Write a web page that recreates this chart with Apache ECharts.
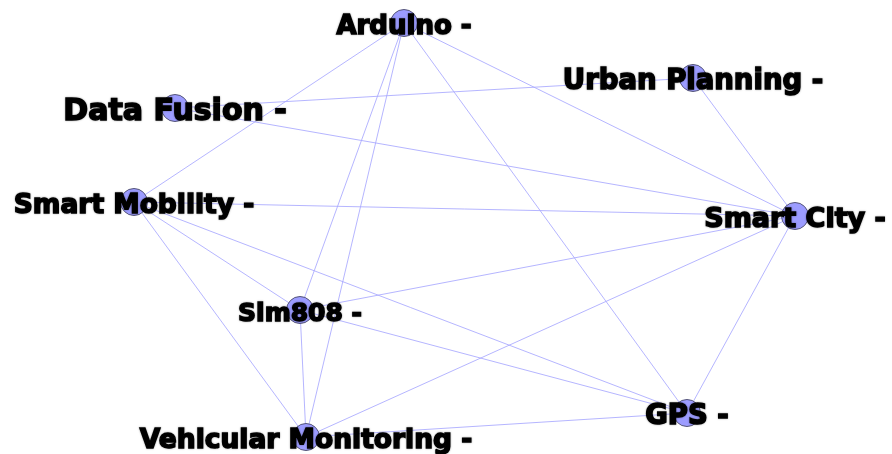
<!DOCTYPE html>
<html>
<head>
<meta charset="utf-8">
<title>Network</title>
<script src="https://cdn.jsdelivr.net/npm/echarts@6/dist/echarts.min.js"></script>
<style>
  html, body { margin: 0; padding: 0; background: #fff; }
</style>
</head>
<body>
<div id="main" style="width: 892px;height:454px;"></div>
<script>
  // nodes and their layout position (layout units, same scale as the canvas)
  var nodeNames = ['Arduino', 'Urban Planning', 'Data Fusion', 'Smart Mobility', 'Smart City', 'Sim808', 'GPS', 'Vehicular Monitoring'];
  var nodeX = [404, 693, 175, 134, 795, 300, 687, 306];
  var nodeY = [23, 78, 108, 202, 216, 310, 413, 437];
  var labelSizes = [26, 27.5, 30, 26.5, 27, 25, 27.5, 26.5];

  // edges (source, target)
  var linkSource = ['Arduino', 'Arduino', 'Arduino', 'Arduino', 'Arduino', 'Data Fusion', 'Data Fusion', 'Smart Mobility', 'Smart Mobility', 'Smart Mobility', 'Smart Mobility', 'Sim808', 'Sim808', 'Sim808', 'Vehicular Monitoring', 'Vehicular Monitoring', 'Urban Planning', 'Smart City'];
  var linkTarget = ['Smart Mobility', 'Sim808', 'Vehicular Monitoring', 'Smart City', 'GPS', 'Urban Planning', 'Smart City', 'Smart City', 'Sim808', 'GPS', 'Vehicular Monitoring', 'Smart City', 'GPS', 'Vehicular Monitoring', 'Smart City', 'GPS', 'Smart City', 'GPS'];

  var chart = echarts.init(document.getElementById('main'));

  var nodes = nodeNames.map(function (n, i) {
    return {
      name: n,
      value: [nodeX[i], nodeY[i]],
      label: { fontSize: labelSizes[i] }
    };
  });
  var links = linkSource.map(function (s, i) {
    return { source: s, target: linkTarget[i] };
  });

  var option = {
    animation: false,
    grid: { left: 0, right: 0, top: 0, bottom: 0 },
    xAxis: { type: 'value', min: 0, max: 892, show: false },
    yAxis: { type: 'value', min: 0, max: 454, inverse: true, show: false },
    series: [{
      type: 'graph',
      coordinateSystem: 'cartesian2d',
      layout: 'none',
      symbol: 'circle',
      symbolSize: 27,
      itemStyle: {
        color: '#9c9cff',
        borderColor: '#555577',
        borderWidth: 1
      },
      label: {
        show: true,
        position: 'inside',
        offset: [0, 4],
        formatter: '{b} -',
        color: '#000',
        fontFamily: 'DejaVu Sans',
        fontWeight: 'bold',
        textBorderColor: '#000',
        textBorderWidth: 1.5,
        textShadowColor: 'rgba(0,0,0,0.35)',
        textShadowBlur: 2
      },
      lineStyle: {
        color: '#a8a8ff',
        width: 1,
        opacity: 0.85,
        curveness: 0
      },
      emphasis: { disabled: true },
      data: nodes,
      links: links
    }]
  };

  chart.setOption(option);
</script>
</body>
</html>
